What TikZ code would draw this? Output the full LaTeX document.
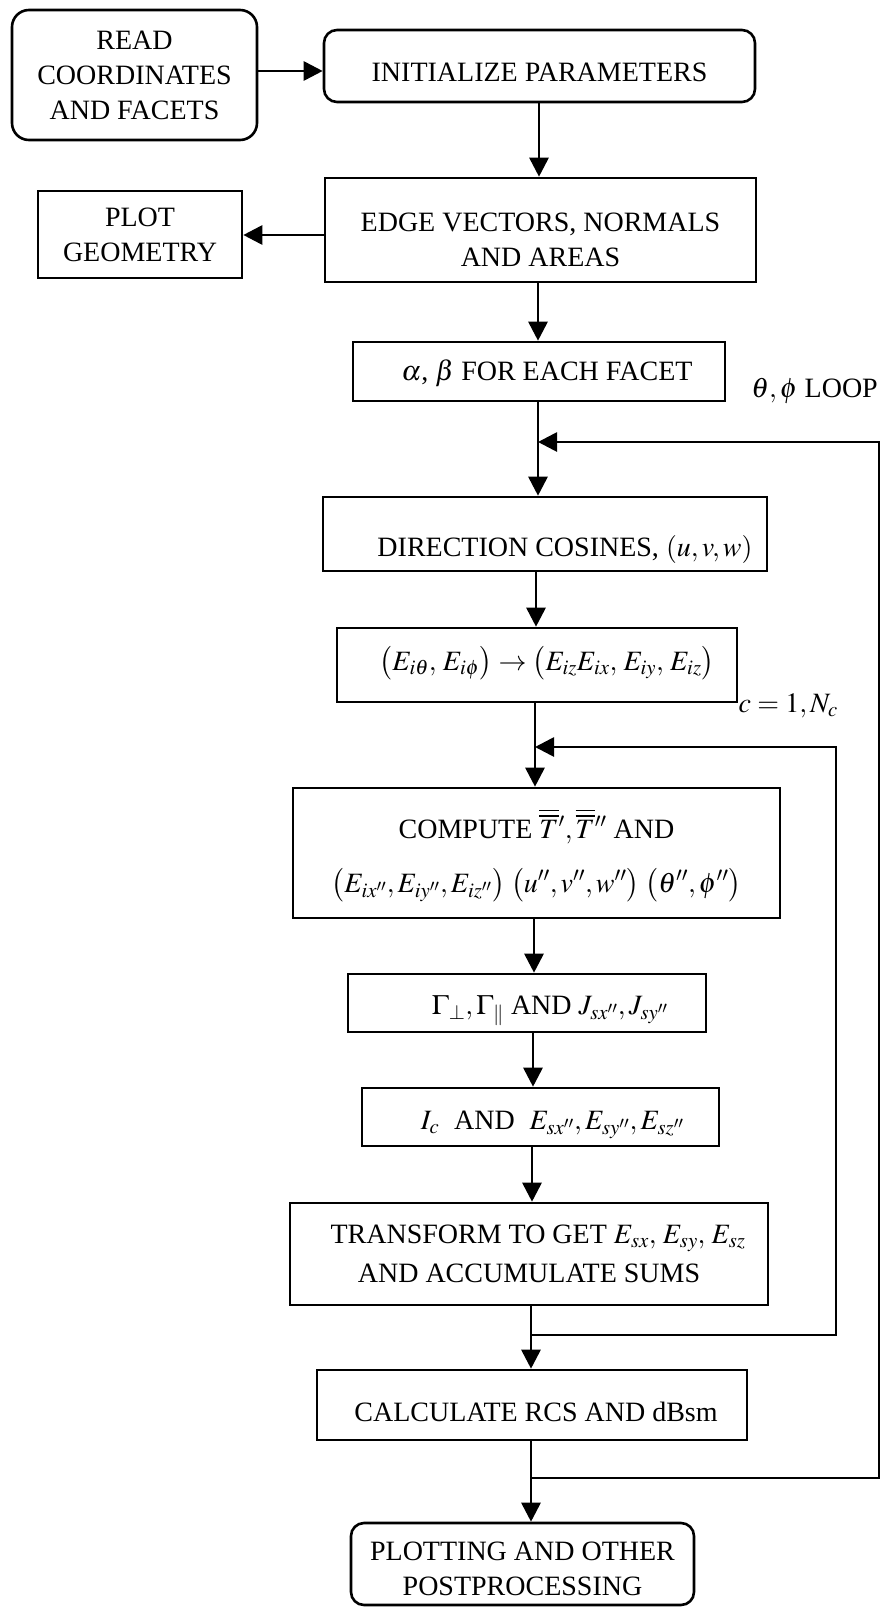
\documentclass[tikz,border=0pt]{standalone}
\usepackage{mathptmx}
\usepackage{fontspec}
\setmainfont{Liberation Serif}
\usetikzlibrary{arrows.meta}
\newcommand{\tstrut}[1]{\rule{0pt}{#1}}
\tikzset{
  box/.style={draw, line width=2.6pt, inner sep=0pt, font=\fontsize{28}{35}\selectfont, text depth=7pt},
  mbox/.style={draw, line width=2.6pt, inner sep=0pt, align=center, font=\fontsize{28}{35}\selectfont},
  conn/.style={line width=2.8pt},
  arr/.style={conn, -{Triangle[length=19pt,width=19pt]}},
  lbl/.style={font=\fontsize{28}{35}\selectfont, inner sep=0pt},
}
\begin{document}
\begin{tikzpicture}[x=1pt,y=-1pt]
\useasboundingbox (0,0) rectangle (883,1608);

% boxes
\node[mbox, rounded corners=17pt, minimum width=245pt, minimum height=130pt] (read) at (134.5,75) {READ\\COORDINATES\\AND FACETS};
\node[box, rounded corners=13pt, text height=38.5pt, minimum width=431pt, minimum height=72pt] (init) at (539.5,66) {INITIALIZE PARAMETERS};
\node[mbox, minimum width=431pt, minimum height=104pt] (edge) at (540.5,230) {\tstrut{38.5pt}EDGE VECTORS, NORMALS\\AND AREAS};
\node[mbox, minimum width=204pt, minimum height=87pt] (plot) at (140,234.5) {PLOT\\GEOMETRY};
\node[box, text height=25.5pt, minimum width=372pt, minimum height=59pt] (alpha) at (539,371.5) {\hspace*{16pt}$\alpha$, $\beta$ FOR EACH FACET};
\node[box, text height=51.5pt, minimum width=444pt, minimum height=74pt] (dir) at (545,534) {\hspace*{40pt}DIRECTION COSINES, $(u,v,w)$};
\node[box, text height=17.5pt, minimum width=400pt, minimum height=74pt] (efield) at (537,665) {\hspace*{20pt}$\bigl(E_{i\theta},\,E_{i\phi}\bigr)\rightarrow\bigl(E_{iz}E_{ix},\,E_{iy},\,E_{iz}\bigr)$};
\node[mbox, minimum width=487pt, minimum height=130pt] (compute) at (536.5,853) {\tstrut{34pt}COMPUTE $\overline{\overline{T}}{}',\overline{\overline{T}}{}''$ AND\\[19pt]$\bigl(E_{ix''},E_{iy''},E_{iz''}\bigr)\;\bigl(u'',v'',w''\bigr)\;\bigl(\theta'',\phi''\bigr)$};
\node[box, text height=29.5pt, minimum width=358pt, minimum height=58pt] (gamma) at (527,1003) {\hspace*{46pt}$\Gamma_{\perp},\Gamma_{\|}$ AND $J_{sx''},J_{sy''}$};
\node[box, text height=31.5pt, minimum width=357pt, minimum height=58pt] (ic) at (540.5,1117) {\hspace*{24pt}$I_c$\; AND\; $E_{sx''},E_{sy''},E_{sz''}$};
\node[mbox, minimum width=478pt, minimum height=102pt] (transform) at (529,1254) {\hspace*{18pt}TRANSFORM TO GET $E_{sx},\,E_{sy},\,E_{sz}$\\[4pt]AND ACCUMULATE SUMS};
\node[box, text height=39.5pt, minimum width=430pt, minimum height=70pt] (calc) at (532,1405) {\hspace*{8pt}CALCULATE RCS AND dBsm};
\node[mbox, rounded corners=13pt, minimum width=343pt, minimum height=82pt] (plotting) at (522.5,1564) {\tstrut{28.5pt}PLOTTING AND OTHER\\POSTPROCESSING};

% labels
\node[lbl, anchor=base east] (lblouter) at (878,397) {$\theta,\phi$ LOOP};
\node[lbl, anchor=base east] (lblinner) at (838,712) {$c=1,N_c$};

% helper coordinates
\coordinate (ya) at (0,71);
\coordinate (yb) at (0,235);
\coordinate (xa) at (539,0);
\coordinate (xb) at (538,0);
\coordinate (xc) at (536,0);
\coordinate (xd) at (535,0);
\coordinate (xe) at (534,0);
\coordinate (xf) at (533,0);
\coordinate (xg) at (532,0);
\coordinate (xh) at (531,0);

% connectors
\draw[arr] (read.east |- ya) -- (init.west |- ya);
\draw[arr] (init.south -| xa) -- (edge.north -| xa);
\draw[arr] (edge.west |- yb) -- (plot.east |- yb);
\draw[arr] (edge.south -| xb) -- (alpha.north -| xb);
\draw[arr] (alpha.south -| xb) -- (dir.north -| xb);
\draw[arr] (dir.south -| xc) -- (efield.north -| xc);
\draw[arr] (efield.south -| xd) -- (compute.north -| xd);
\draw[arr] (compute.south -| xe) -- (gamma.north -| xe);
\draw[arr] (gamma.south -| xf) -- (ic.north -| xf);
\draw[arr] (ic.south -| xg) -- (transform.north -| xg);
\draw[arr] (transform.south -| xh) -- (calc.north -| xh);
\draw[arr] (calc.south -| xh) -- (plotting.north -| xh);

% inner loop c = 1, N_c
\coordinate (inS) at (531,1335);
\coordinate (inR) at (836,1335);
\coordinate (inT) at (836,747);
\coordinate (inJ) at (535,747);
\draw[arr] (inS) -- (inR) -- (inT) -- (inJ);

% outer loop theta, phi
\coordinate (outS) at (531,1478);
\coordinate (outR) at (879,1478);
\coordinate (outT) at (879,442);
\coordinate (outJ) at (538,442);
\draw[arr] (outS) -- (outR) -- (outT) -- (outJ);
\end{tikzpicture}
\end{document}
